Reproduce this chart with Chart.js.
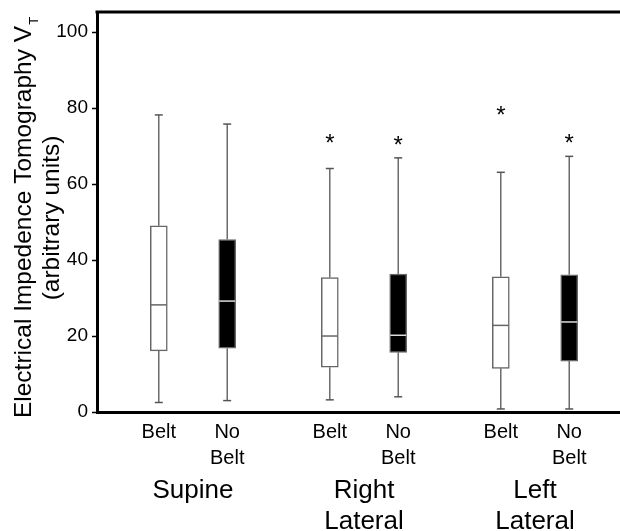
<!DOCTYPE html>
<html>
<head>
<meta charset="utf-8">
<script src="https://cdn.jsdelivr.net/npm/chart.js@4.4.1/dist/chart.umd.min.js"></script>
<style>
  html, body { margin: 0; padding: 0; background: #fff; overflow: hidden; }
  #wrap { width: 620px; height: 531px; }
</style>
</head>
<body>
<div id="wrap"><canvas id="boxChart"></canvas></div>
<script>
const FONT = "'Liberation Sans', Arial, Helvetica, sans-serif";

// categorias
const groups = ["Supine", ["Right", "Lateral"], ["Left", "Lateral"]];
const conditions = ["Belt", ["No", "Belt"]];

// ordem: Supine Belt, Supine No Belt, Right Belt, Right No Belt, Left Belt, Left No Belt
const whiskerLow  = [2.5, 3.0, 3.2, 4.0, 0.8, 0.8];
const q1          = [16.1, 16.8, 11.8, 15.7, 11.5, 13.4];
const median      = [28.2, 29.2, 20.0, 20.2, 22.8, 23.7];
const q3          = [49.0, 45.4, 35.4, 36.3, 35.6, 36.1];
const whiskerHigh = [78.2, 75.8, 64.1, 66.9, 63.1, 67.3];
// asteriscos de significancia
const starValues  = [null, null, 72.0, 71.6, 79.5, 72.1];

const yTicks = [0, 20, 40, 60, 80, 100];

// posicao de cada caixa no eixo x (grupo +/- deslocamento)
const xs = q1.map((_, i) => Math.floor(i / 2) + 1 + (i % 2 === 0 ? -0.2 : 0.2));
const X_MIN = 0.4386, X_MAX = 3.497;

const boxData = xs.map((x, i) => ({ x, y: [q1[i], q3[i]] }));
const whiskerData = [];
xs.forEach((x, i) => {
  whiskerData.push(
    { x, y: whiskerLow[i] }, { x, y: q1[i] }, { x, y: null },
    { x, y: q3[i] }, { x, y: whiskerHigh[i] }, { x, y: null }
  );
});
const capData = [];
xs.forEach((x, i) => capData.push({ x, y: whiskerLow[i] }, { x, y: whiskerHigh[i] }));
const medianData = xs.map((x, i) => ({ x, y: median[i] }));

// borda superior da area do grafico
const topBorder = {
  id: "topBorder",
  afterDraw(chart) {
    const { ctx, chartArea } = chart;
    ctx.save();
    ctx.strokeStyle = "#000";
    ctx.lineWidth = 3;
    ctx.beginPath();
    ctx.moveTo(chartArea.left - 1.5, chartArea.top);
    ctx.lineTo(chart.width, chartArea.top);
    ctx.stroke();
    ctx.restore();
  },
};

// asteriscos
const stars = {
  id: "stars",
  afterDatasetsDraw(chart) {
    const { ctx, scales } = chart;
    ctx.save();
    ctx.fillStyle = "#000";
    ctx.font = `24px ${FONT}`;
    ctx.textAlign = "center";
    ctx.textBaseline = "alphabetic";
    const m = ctx.measureText("*");
    const shift = (m.actualBoundingBoxAscent - m.actualBoundingBoxDescent) / 2;
    starValues.forEach((v, i) => {
      if (v == null) return;
      ctx.fillText("*", scales.x.getPixelForValue(xs[i]), scales.y.getPixelForValue(v) + shift);
    });
    ctx.restore();
  },
};

// titulo do eixo y com subscrito
const yTitle = {
  id: "yTitle",
  afterDraw(chart) {
    const { ctx, chartArea } = chart;
    const cy = (chartArea.top + chartArea.bottom) / 2 + 6;
    const main = "Electrical Impedence Tomography V";
    ctx.save();
    ctx.fillStyle = "#000";
    ctx.font = `24.5px ${FONT}`;
    const wMain = ctx.measureText(main).width;
    ctx.font = `13px ${FONT}`;
    const wSub = ctx.measureText("T").width;

    ctx.save();
    ctx.translate(31, cy);
    ctx.rotate(-Math.PI / 2);
    const start = -(wMain + wSub) / 2;
    ctx.font = `24.5px ${FONT}`;
    ctx.fillText(main, start, 0);
    ctx.font = `13px ${FONT}`;
    ctx.fillText("T", start + wMain + 1, 7);
    ctx.restore();

    ctx.save();
    ctx.translate(59, cy);
    ctx.rotate(-Math.PI / 2);
    ctx.font = `24.5px ${FONT}`;
    ctx.textAlign = "center";
    ctx.fillText("(arbitrary units)", 0, 0);
    ctx.restore();
    ctx.restore();
  },
};

new Chart(document.getElementById("boxChart"), {
  type: "bar",
  data: {
    datasets: [
      {
        type: "scatter",
        data: medianData,
        pointStyle: "line",
        pointRadius: 8,
        pointHoverRadius: 8,
        borderWidth: 1.5,
        pointBorderColor: xs.map((_, i) => (i % 2 ? "#ddd" : "#666")),
        order: 0,
      },
      {
        type: "scatter",
        data: capData,
        pointStyle: "line",
        pointRadius: 4,
        pointHoverRadius: 4,
        borderWidth: 1.5,
        pointBorderColor: "#555",
        order: 1,
      },
      {
        type: "bar",
        data: boxData,
        barThickness: 17,
        grouped: false,
        borderSkipped: false,
        borderWidth: 1.5,
        borderColor: "#666",
        backgroundColor: xs.map((_, i) => (i % 2 ? "#000" : "#fff")),
        order: 2,
      },
      {
        type: "line",
        data: whiskerData,
        borderColor: "#555",
        borderWidth: 1.3,
        pointRadius: 0,
        spanGaps: false,
        order: 3,
      },
    ],
  },
  options: {
    responsive: true,
    maintainAspectRatio: false,
    animation: false,
    layout: { autoPadding: false, padding: { top: 12, left: 0, right: 0, bottom: 0 } },
    plugins: { legend: { display: false }, tooltip: { enabled: false } },
    scales: {
      x: {
        type: "linear",
        min: X_MIN,
        max: X_MAX,
        offset: false,
        grid: { display: false, drawTicks: false },
        border: { display: true, color: "#000", width: 3 },
        afterBuildTicks: (s) => { s.ticks = xs.map((v) => ({ value: v })); },
        afterFit: (s) => { s.height = 57; },
        ticks: {
          padding: 7,
          color: "#000",
          maxRotation: 0,
          autoSkip: false,
          font: { family: FONT, size: 20, lineHeight: 1.3 },
          callback: (v, i) => conditions[i % 2],
        },
      },
      x2: {
        type: "linear",
        position: "bottom",
        min: X_MIN,
        max: X_MAX,
        offset: false,
        grid: { display: false, drawTicks: false },
        border: { display: false },
        afterBuildTicks: (s) => { s.ticks = groups.map((_, g) => ({ value: g + 1 })); },
        afterFit: (s) => { s.height = 62; },
        ticks: {
          padding: 6,
          color: "#000",
          maxRotation: 0,
          autoSkip: false,
          font: { family: FONT, size: 26, lineHeight: 1.2 },
          callback: (v, i) => groups[i],
        },
      },
      y: {
        min: 0,
        max: 105.3,
        afterBuildTicks: (s) => { s.ticks = yTicks.map((v) => ({ value: v })); },
        afterFit: (s) => {
          s.width = 97;
          s.paddingTop = 0;
          s.paddingBottom = 0;
        },
        grid: { drawOnChartArea: false, drawTicks: true, tickLength: 5, tickColor: "#000", tickWidth: 1.5 },
        border: { display: true, color: "#000", width: 3 },
        ticks: { padding: 4, color: "#000", font: { family: FONT, size: 19 } },
      },
    },
  },
  plugins: [topBorder, stars, yTitle],
});
</script>
</body>
</html>
